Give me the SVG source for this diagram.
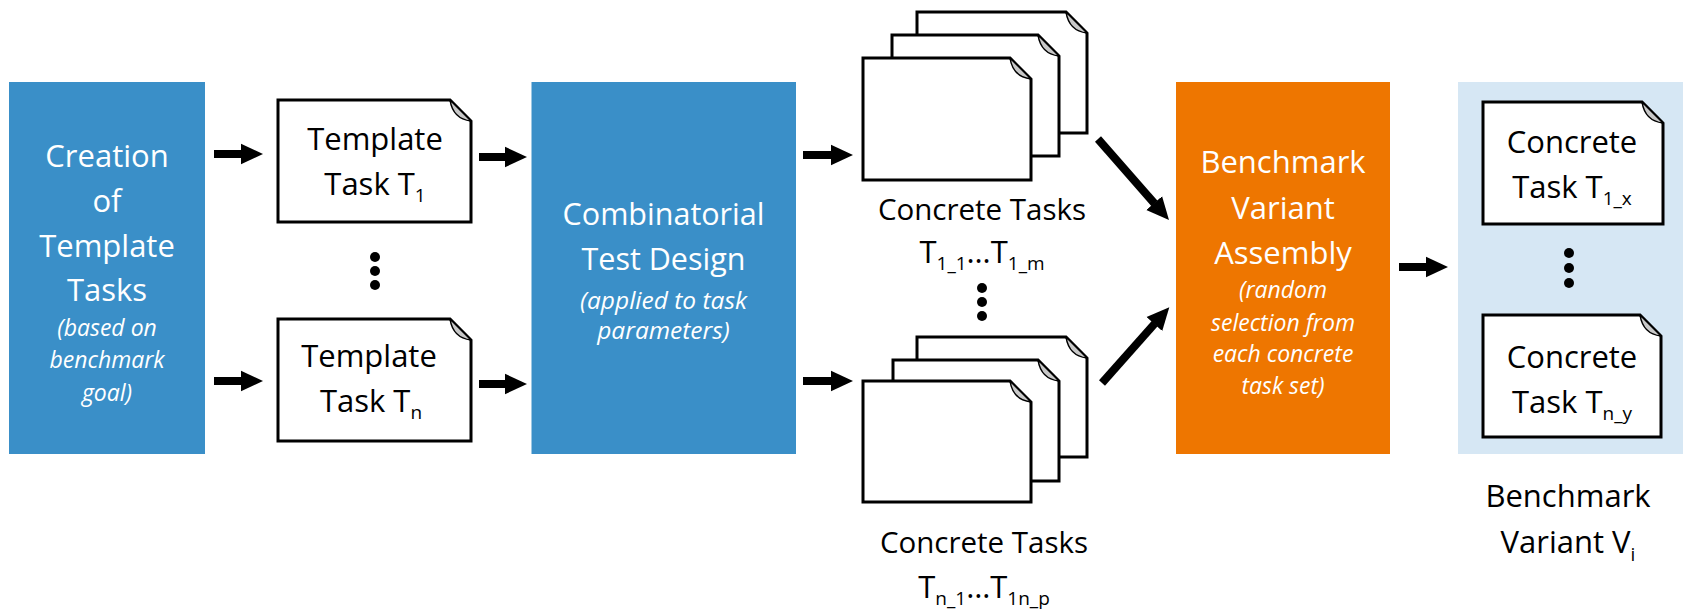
<svg xmlns="http://www.w3.org/2000/svg" width="1683" height="614" viewBox="0 0 1683 614">
<defs>
<style>
.t{font-family:"Open Sans","Liberation Sans",sans-serif;font-size:31px;text-anchor:middle;fill:#000}
.w{fill:#fff}
.i{font-style:italic;font-size:23px}
.sub{font-size:19px}
.doc{fill:#fff;stroke:#000;stroke-width:3;stroke-linejoin:miter}
.flap{fill:#c8c8c8;stroke:#000;stroke-width:1.5;stroke-linejoin:round}
.arr{stroke:#000;stroke-width:8;fill:none;marker-end:url(#ah)}
.dot{fill:#000}
</style>
<marker id="ah" markerUnits="userSpaceOnUse" markerWidth="23" markerHeight="22" refX="0.5" refY="11" orient="auto">
<path d="M0,0.5 L22.5,11 L0,21.5 Z" fill="#000"/>
</marker>
</defs>
<rect width="1683" height="614" fill="#fff"/>

<g id="creation">
<rect x="9" y="82" width="196" height="372" fill="#3A8FC8"/>
<text class="t w" x="107" y="167">Creation</text>
<text class="t w" x="107" y="212">of</text>
<text class="t w" x="107" y="257">Template</text>
<text class="t w" x="107" y="301">Tasks</text>
<text class="t w i" x="107" y="336">(based on</text>
<text class="t w i" x="107" y="368">benchmark</text>
<text class="t w i" x="107" y="401">goal)</text>
</g>

<g id="template-t1">
<polygon class="doc" points="278,100 450,100 471,121 471,222 278,222"/>
<path class="flap" d="M450,100 L471,121 Q453,119 450,100 Z"/>
<text class="t" x="375" y="150">Template</text>
<text class="t" x="375" y="195">Task T<tspan class="sub" dy="7">1</tspan></text>
</g>

<g id="template-dots">
<circle class="dot" cx="375" cy="257" r="5"/>
<circle class="dot" cx="375" cy="271" r="5"/>
<circle class="dot" cx="375" cy="285" r="5"/>
</g>

<g id="template-tn">
<polygon class="doc" points="278,319 450,319 471,340 471,441 278,441"/>
<path class="flap" d="M450,319 L471,340 Q453,338 450,319 Z"/>
<text class="t" x="369" y="367">Template</text>
<text class="t" x="371" y="412">Task T<tspan class="sub" dy="7">n</tspan></text>
</g>

<g id="combinatorial">
<rect x="531.5" y="82" width="264.5" height="372" fill="#3A8FC8"/>
<text class="t w" x="663.5" y="225" style="font-size:30.5px">Combinatorial</text>
<text class="t w" x="663.5" y="270" style="font-size:30.5px">Test Design</text>
<text class="t w i" x="663.5" y="309" style="font-size:24.5px">(applied to task</text>
<text class="t w i" x="663.5" y="339" style="font-size:24.5px">parameters)</text>
</g>

<g id="concrete-set-1">
<polygon class="doc" points="917,12 1066,12 1087,33 1087,133 917,133"/>
<path class="flap" d="M1066,12 L1087,33 Q1069,31 1066,12 Z"/>
<polygon class="doc" points="892,35 1038,35 1059,56 1059,156 892,156"/>
<path class="flap" d="M1038,35 L1059,56 Q1041,54 1038,35 Z"/>
<polygon class="doc" points="863,58 1010,58 1031,79 1031,180 863,180"/>
<path class="flap" d="M1010,58 L1031,79 Q1013,77 1010,58 Z"/>
<text class="t" x="982" y="220" style="font-size:29.5px">Concrete Tasks</text>
<text class="t" x="982" y="263">T<tspan class="sub" dy="7">1_1</tspan><tspan dy="-7">…</tspan>T<tspan class="sub" dy="7">1_m</tspan></text>
</g>

<g id="concrete-dots">
<circle class="dot" cx="982" cy="288" r="5"/>
<circle class="dot" cx="982" cy="302" r="5"/>
<circle class="dot" cx="982" cy="316" r="5"/>
</g>

<g id="concrete-set-n">
<polygon class="doc" points="917,337 1066,337 1087,358 1087,457 917,457"/>
<path class="flap" d="M1066,337 L1087,358 Q1069,356 1066,337 Z"/>
<polygon class="doc" points="893,360 1038,360 1059,381 1059,481 893,481"/>
<path class="flap" d="M1038,360 L1059,381 Q1041,379 1038,360 Z"/>
<polygon class="doc" points="863,381 1010,381 1031,402 1031,502 863,502"/>
<path class="flap" d="M1010,381 L1031,402 Q1013,400 1010,381 Z"/>
<text class="t" x="984" y="553" style="font-size:29.5px">Concrete Tasks</text>
<text class="t" x="984" y="598">T<tspan class="sub" dy="7">n_1</tspan><tspan dy="-7">…</tspan>T<tspan class="sub" dy="7">1n_p</tspan></text>
</g>

<g id="assembly">
<rect x="1176" y="82" width="214" height="372" fill="#EE7600"/>
<text class="t w" x="1283" y="173">Benchmark</text>
<text class="t w" x="1283" y="219">Variant</text>
<text class="t w" x="1283" y="264">Assembly</text>
<text class="t w i" x="1283" y="298">(random</text>
<text class="t w i" x="1283" y="330.5">selection from</text>
<text class="t w i" x="1283" y="361.5">each concrete</text>
<text class="t w i" x="1283" y="394">task set)</text>
</g>

<g id="benchmark-variant">
<rect x="1458" y="82" width="225" height="372" fill="#D6E7F4"/>
<polygon class="doc" points="1483,102 1642,102 1663,123 1663,224 1483,224"/>
<path class="flap" d="M1642,102 L1663,123 Q1645,121 1642,102 Z"/>
<text class="t" x="1572" y="152.5">Concrete</text>
<text class="t" x="1572" y="198">Task T<tspan class="sub" dy="7">1_x</tspan></text>
<circle class="dot" cx="1569" cy="253" r="5"/>
<circle class="dot" cx="1569" cy="268" r="5"/>
<circle class="dot" cx="1569" cy="283" r="5"/>
<polygon class="doc" points="1483,315 1640,315 1661,336 1661,437 1483,437"/>
<path class="flap" d="M1640,315 L1661,336 Q1643,334 1640,315 Z"/>
<text class="t" x="1572" y="368">Concrete</text>
<text class="t" x="1572" y="413">Task T<tspan class="sub" dy="7">n_y</tspan></text>
<text class="t" x="1568" y="506.5">Benchmark</text>
<text class="t" x="1568" y="553">Variant V<tspan class="sub" dy="8">i</tspan></text>
</g>

<g id="connectors">
<line class="arr" x1="214" y1="154" x2="241" y2="154"/>
<line class="arr" x1="214" y1="381" x2="241" y2="381"/>
<line class="arr" x1="479" y1="157" x2="505" y2="157"/>
<line class="arr" x1="479" y1="384" x2="505" y2="384"/>
<line class="arr" x1="803" y1="155" x2="831" y2="155"/>
<line class="arr" x1="803" y1="381" x2="831" y2="381"/>
<line class="arr" x1="1098" y1="139" x2="1154.5" y2="203.5"/>
<line class="arr" x1="1102" y1="383" x2="1154.7" y2="323.7"/>
<line class="arr" x1="1399" y1="267" x2="1426" y2="267"/>
</g>
</svg>
